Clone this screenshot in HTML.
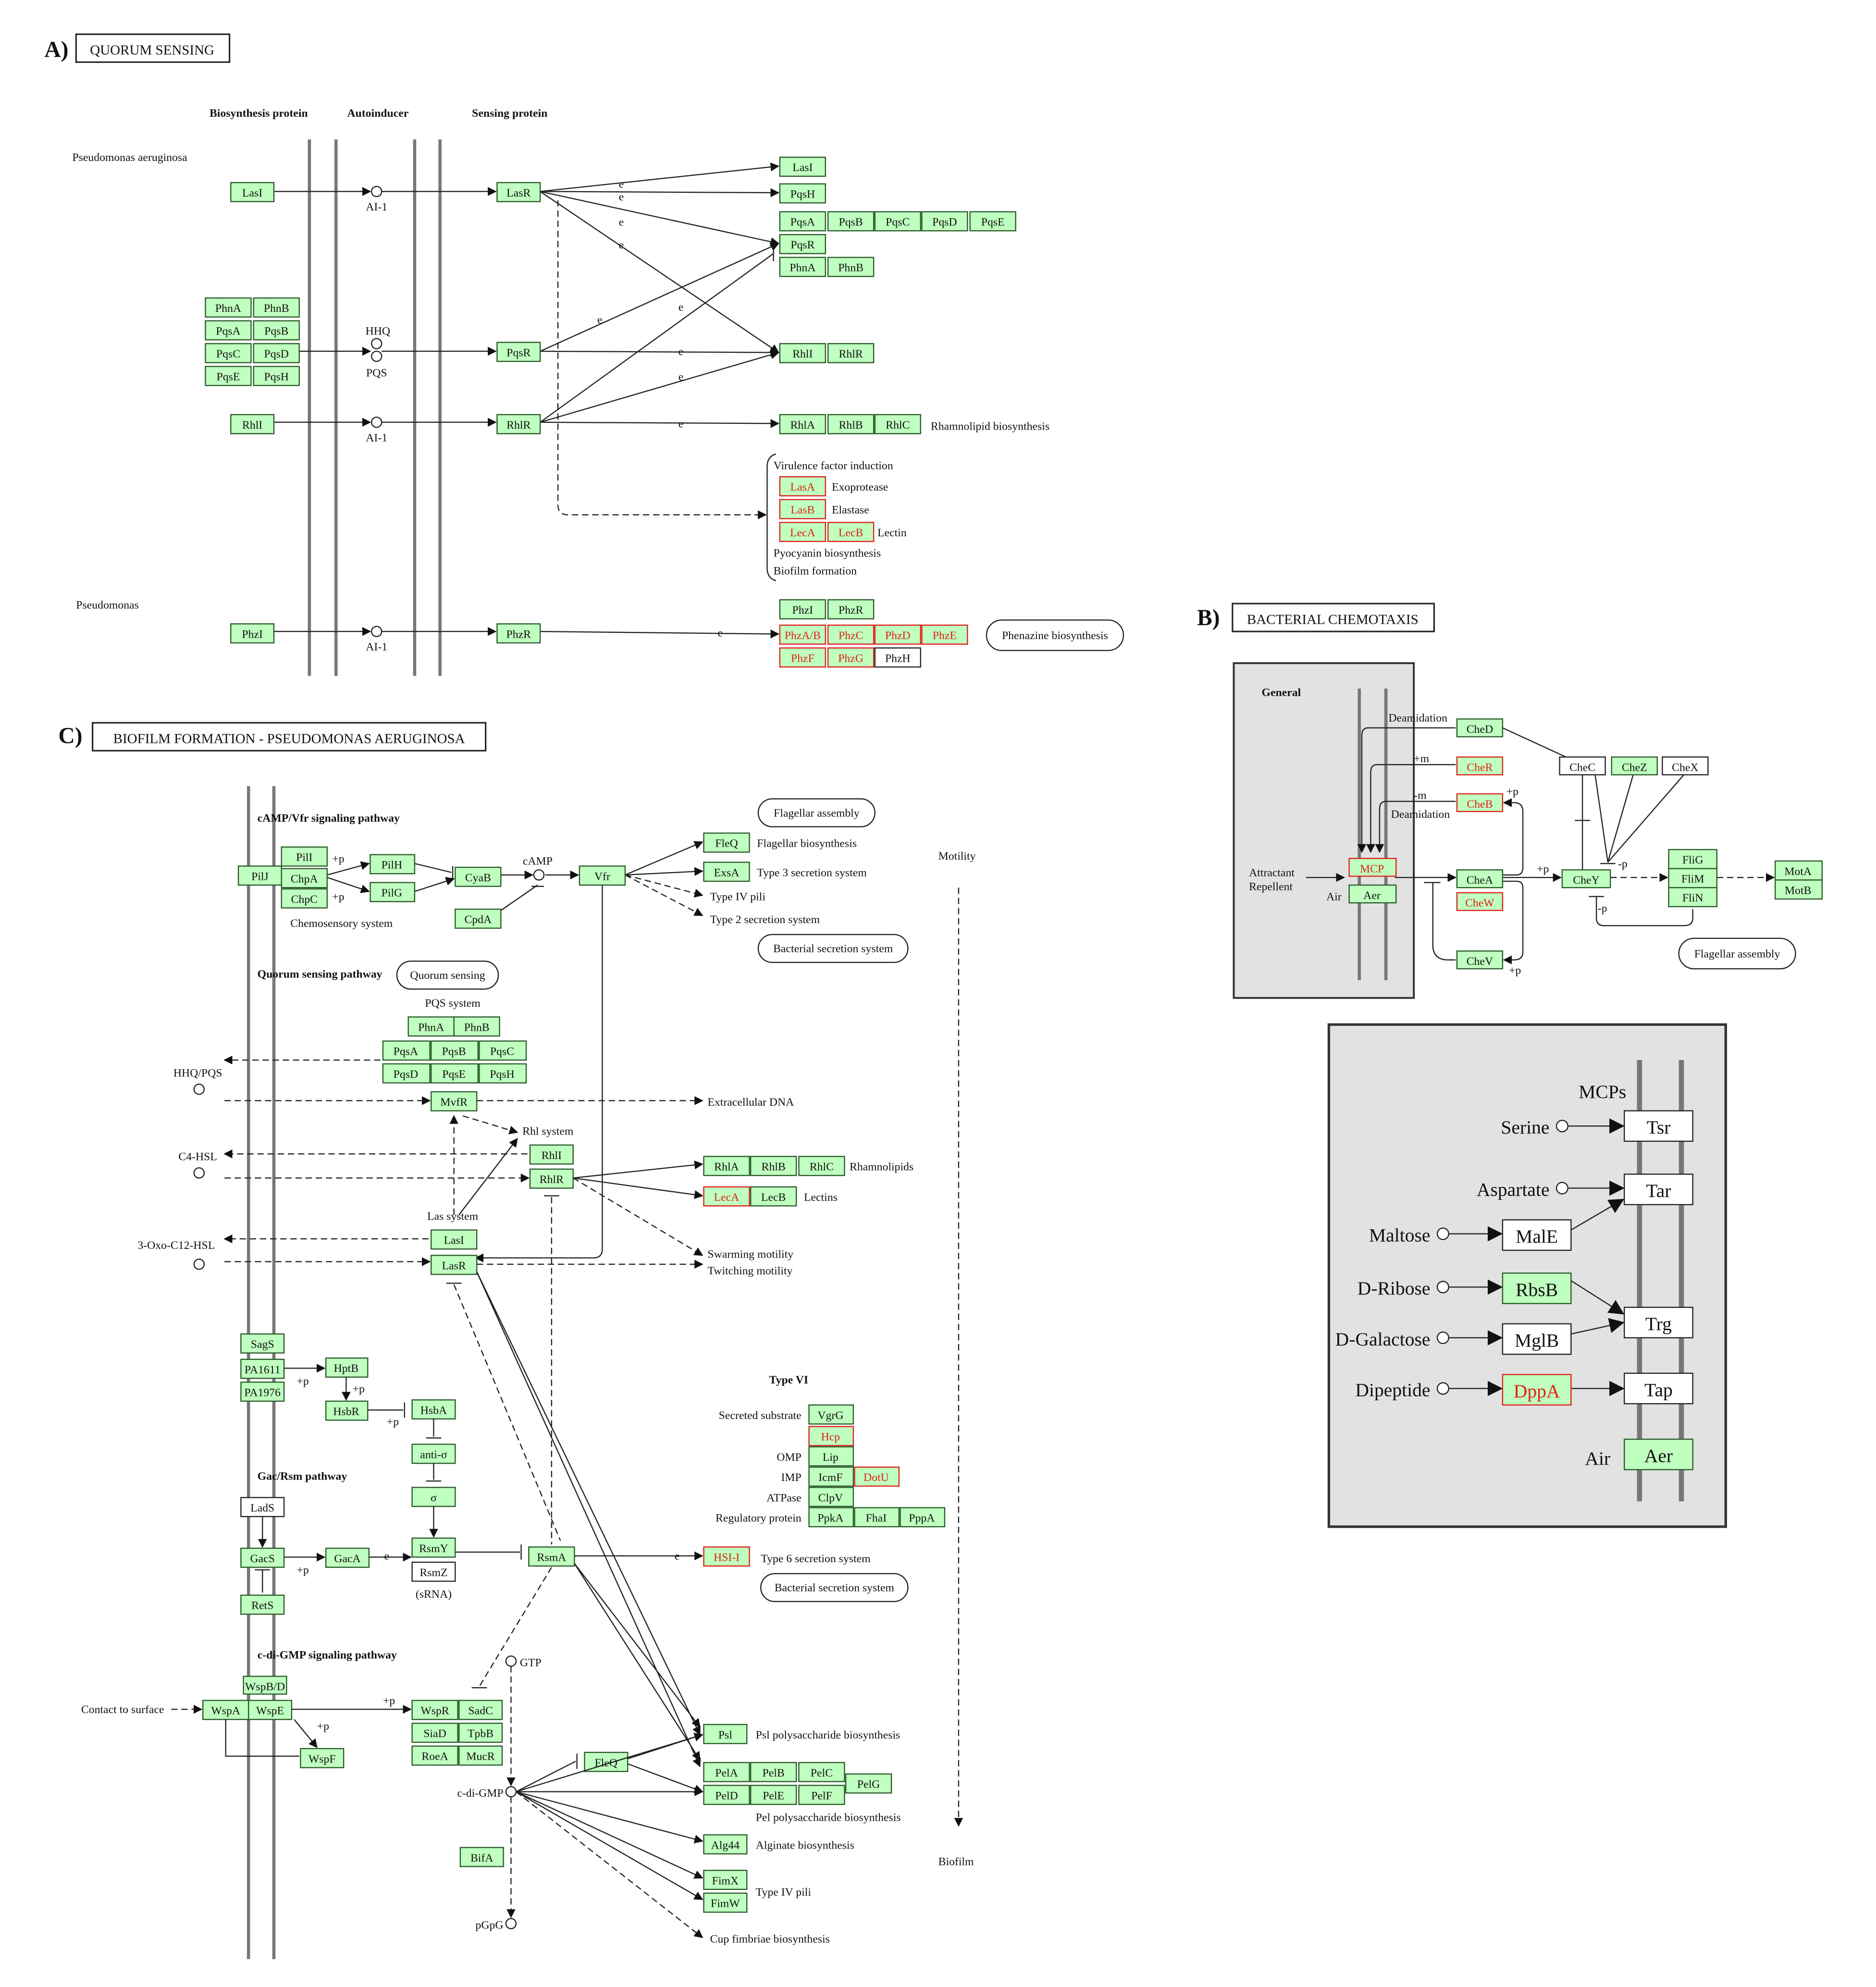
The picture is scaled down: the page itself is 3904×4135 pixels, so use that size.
<!DOCTYPE html>
<html><head><meta charset="utf-8">
<style>
html,body{margin:0;padding:0;background:#fff;}
svg{display:block;}
text{font-family:"Liberation Serif",serif;font-size:9px;fill:#111;}
.m{text-anchor:middle;}
.e{text-anchor:end;}
.b{font-weight:bold;}
.g{fill:#bfffbf;stroke:#2a5a2a;stroke-width:0.9;}
.r{fill:#bfffbf;stroke:#e0201a;stroke-width:0.9;}
.w{fill:#fff;stroke:#222;stroke-width:0.9;}
.rt{fill:#e0201a;}
.v{stroke:#777;stroke-width:2.5;}
.l{stroke:#222;stroke-width:0.9;fill:none;}
.d{stroke:#222;stroke-width:0.9;fill:none;stroke-dasharray:5,3;}
.c{fill:#fff;stroke:#222;stroke-width:0.9;}
.t{fill:#fff;stroke:#222;stroke-width:1.2;}
.big text{font-size:15px;}
</style></head><body>
<svg width="3904" height="4135" viewBox="0 0 1479.5 1567" preserveAspectRatio="none" xmlns="http://www.w3.org/2000/svg">
<defs>
<marker id="a" viewBox="0 0 10 10" refX="9" refY="5" markerWidth="7" markerHeight="7" orient="auto" markerUnits="userSpaceOnUse"><path d="M0,0L10,5L0,10z" fill="#111"/></marker>
<marker id="A" viewBox="0 0 10 10" refX="9" refY="5" markerWidth="12" markerHeight="12" orient="auto" markerUnits="userSpaceOnUse"><path d="M0,0L10,5L0,10z" fill="#111"/></marker>
</defs>
<rect width="1480" height="1567" fill="#fff"/>

<!-- ============ PANEL A ============ -->
<text x="35" y="45" style="font-size:18px" class="b">A)</text>
<rect x="60" y="27" width="121" height="22" class="t"/>
<text x="120" y="43" class="m" style="font-size:11px">QUORUM SENSING</text>
<text x="204" y="92" class="m b">Biosynthesis protein</text>
<text x="298" y="92" class="m b">Autoinducer</text>
<text x="402" y="92" class="m b">Sensing protein</text>
<line x1="244" y1="110" x2="244" y2="533" class="v"/>
<line x1="265" y1="110" x2="265" y2="533" class="v"/>
<line x1="327" y1="110" x2="327" y2="533" class="v"/>
<line x1="347" y1="110" x2="347" y2="533" class="v"/>
<text x="57" y="127">Pseudomonas aeruginosa</text>
<text x="60" y="480">Pseudomonas</text>

<line x1="215" y1="151" x2="292" y2="151" class="l" marker-end="url(#a)"/>
<line x1="301" y1="151" x2="391" y2="151" class="l" marker-end="url(#a)"/>
<line x1="236" y1="277" x2="292" y2="277" class="l" marker-end="url(#a)"/>
<line x1="301" y1="277" x2="391" y2="277" class="l" marker-end="url(#a)"/>
<line x1="215" y1="333" x2="292" y2="333" class="l" marker-end="url(#a)"/>
<line x1="301" y1="333" x2="391" y2="333" class="l" marker-end="url(#a)"/>
<line x1="215" y1="498" x2="292" y2="498" class="l" marker-end="url(#a)"/>
<line x1="301" y1="498" x2="391" y2="498" class="l" marker-end="url(#a)"/>
<circle cx="297" cy="151" r="4" class="c"/><text x="297" y="166" class="m">AI-1</text>
<text x="298" y="264" class="m">HHQ</text>
<circle cx="297" cy="271" r="4" class="c"/><circle cx="297" cy="281" r="4" class="c"/>
<text x="297" y="297" class="m">PQS</text>
<circle cx="297" cy="333" r="4" class="c"/><text x="297" y="348" class="m">AI-1</text>
<circle cx="297" cy="498" r="4" class="c"/><text x="297" y="513" class="m">AI-1</text>

<line x1="426" y1="151" x2="614" y2="131" class="l" marker-end="url(#a)"/>
<line x1="426" y1="151" x2="614" y2="152" class="l" marker-end="url(#a)"/>
<line x1="426" y1="151" x2="614" y2="192" class="l" marker-end="url(#a)"/>
<line x1="426" y1="151" x2="614" y2="278" class="l" marker-end="url(#a)"/>
<line x1="426" y1="277" x2="614" y2="192" class="l" marker-end="url(#a)"/>
<line x1="426" y1="277" x2="614" y2="278" class="l" marker-end="url(#a)"/>
<line x1="426" y1="333" x2="610" y2="200" class="l"/>
<line x1="610" y1="196" x2="610" y2="206" class="l"/>
<line x1="426" y1="333" x2="614" y2="278" class="l" marker-end="url(#a)"/>
<line x1="426" y1="333" x2="614" y2="334" class="l" marker-end="url(#a)"/>
<line x1="426" y1="498" x2="614" y2="500" class="l" marker-end="url(#a)"/>
<path d="M440,158 V398 Q440,406 448,406 H604" class="d" marker-end="url(#a)"/>
<text x="488" y="148">e</text><text x="488" y="158">e</text><text x="488" y="178">e</text><text x="488" y="196">e</text>
<text x="471" y="255">e</text><text x="535" y="245">e</text><text x="535" y="280">e</text><text x="535" y="300">e</text><text x="535" y="337">e</text><text x="566" y="502">e</text>

<rect x="182" y="144" width="34" height="15" class="g"/><text x="199" y="155" class="m">LasI</text>
<rect x="162" y="235" width="36" height="15" class="g"/><text x="180" y="246" class="m">PhnA</text>
<rect x="200" y="235" width="36" height="15" class="g"/><text x="218" y="246" class="m">PhnB</text>
<rect x="162" y="253" width="36" height="15" class="g"/><text x="180" y="264" class="m">PqsA</text>
<rect x="200" y="253" width="36" height="15" class="g"/><text x="218" y="264" class="m">PqsB</text>
<rect x="162" y="271" width="36" height="15" class="g"/><text x="180" y="282" class="m">PqsC</text>
<rect x="200" y="271" width="36" height="15" class="g"/><text x="218" y="282" class="m">PqsD</text>
<rect x="162" y="289" width="36" height="15" class="g"/><text x="180" y="300" class="m">PqsE</text>
<rect x="200" y="289" width="36" height="15" class="g"/><text x="218" y="300" class="m">PqsH</text>
<rect x="182" y="327" width="34" height="15" class="g"/><text x="199" y="338" class="m">RhlI</text>
<rect x="182" y="492" width="34" height="15" class="g"/><text x="199" y="503" class="m">PhzI</text>
<rect x="392" y="144" width="34" height="15" class="g"/><text x="409" y="155" class="m">LasR</text>
<rect x="392" y="270" width="34" height="15" class="g"/><text x="409" y="281" class="m">PqsR</text>
<rect x="392" y="327" width="34" height="15" class="g"/><text x="409" y="338" class="m">RhlR</text>
<rect x="392" y="492" width="34" height="15" class="g"/><text x="409" y="503" class="m">PhzR</text>

<rect x="615" y="124" width="36" height="15" class="g"/><text x="633" y="135" class="m">LasI</text>
<rect x="615" y="145" width="36" height="15" class="g"/><text x="633" y="156" class="m">PqsH</text>
<rect x="615" y="167" width="36" height="15" class="g"/><text x="633" y="178" class="m">PqsA</text>
<rect x="653" y="167" width="36" height="15" class="g"/><text x="671" y="178" class="m">PqsB</text>
<rect x="690" y="167" width="36" height="15" class="g"/><text x="708" y="178" class="m">PqsC</text>
<rect x="727" y="167" width="36" height="15" class="g"/><text x="745" y="178" class="m">PqsD</text>
<rect x="765" y="167" width="36" height="15" class="g"/><text x="783" y="178" class="m">PqsE</text>
<rect x="615" y="185" width="36" height="15" class="g"/><text x="633" y="196" class="m">PqsR</text>
<rect x="615" y="203" width="36" height="15" class="g"/><text x="633" y="214" class="m">PhnA</text>
<rect x="653" y="203" width="36" height="15" class="g"/><text x="671" y="214" class="m">PhnB</text>
<rect x="615" y="271" width="36" height="15" class="g"/><text x="633" y="282" class="m">RhlI</text>
<rect x="653" y="271" width="36" height="15" class="g"/><text x="671" y="282" class="m">RhlR</text>
<rect x="615" y="327" width="36" height="15" class="g"/><text x="633" y="338" class="m">RhlA</text>
<rect x="653" y="327" width="36" height="15" class="g"/><text x="671" y="338" class="m">RhlB</text>
<rect x="690" y="327" width="36" height="15" class="g"/><text x="708" y="338" class="m">RhlC</text>
<text x="734" y="339">Rhamnolipid biosynthesis</text>
<path d="M612,358 Q605,360 605,368 V448 Q605,456 612,458" class="l"/>
<text x="610" y="370">Virulence factor induction</text>
<rect x="615" y="376" width="36" height="15" class="r"/><text x="633" y="387" class="m rt">LasA</text><text x="656" y="387">Exoprotease</text>
<rect x="615" y="394" width="36" height="15" class="r"/><text x="633" y="405" class="m rt">LasB</text><text x="656" y="405">Elastase</text>
<rect x="615" y="412" width="36" height="15" class="r"/><text x="633" y="423" class="m rt">LecA</text>
<rect x="653" y="412" width="36" height="15" class="r"/><text x="671" y="423" class="m rt">LecB</text><text x="692" y="423">Lectin</text>
<text x="610" y="439">Pyocyanin biosynthesis</text>
<text x="610" y="453">Biofilm formation</text>
<rect x="615" y="473" width="36" height="15" class="g"/><text x="633" y="484" class="m">PhzI</text>
<rect x="653" y="473" width="36" height="15" class="g"/><text x="671" y="484" class="m">PhzR</text>
<rect x="615" y="493" width="36" height="15" class="r"/><text x="633" y="504" class="m rt">PhzA/B</text>
<rect x="653" y="493" width="36" height="15" class="r"/><text x="671" y="504" class="m rt">PhzC</text>
<rect x="690" y="493" width="36" height="15" class="r"/><text x="708" y="504" class="m rt">PhzD</text>
<rect x="727" y="493" width="36" height="15" class="r"/><text x="745" y="504" class="m rt">PhzE</text>
<rect x="615" y="511" width="36" height="15" class="r"/><text x="633" y="522" class="m rt">PhzF</text>
<rect x="653" y="511" width="36" height="15" class="r"/><text x="671" y="522" class="m rt">PhzG</text>
<rect x="690" y="511" width="36" height="15" class="w"/><text x="708" y="522" class="m">PhzH</text>
<rect x="778" y="489" width="108" height="24" rx="12" class="w"/><text x="832" y="504" class="m">Phenazine biosynthesis</text>

<!-- ============ PANEL B ============ -->
<text x="944" y="493" style="font-size:18px" class="b">B)</text>
<rect x="972" y="476" width="159" height="22" class="t"/>
<text x="1051" y="492" class="m" style="font-size:11px">BACTERIAL CHEMOTAXIS</text>
<rect x="973" y="523" width="142" height="264" fill="#e2e2e2" stroke="#333" stroke-width="1.5"/>
<text x="995" y="549" class="b">General</text>
<line x1="1072" y1="543" x2="1072" y2="773" class="v"/>
<line x1="1093" y1="543" x2="1093" y2="773" class="v"/>
<path d="M1148,574 H1079 Q1074,574 1074,580 V672" class="l" marker-end="url(#a)"/>
<path d="M1148,603 H1086 Q1081,603 1081,609 V672" class="l" marker-end="url(#a)"/>
<path d="M1148,632 H1093 Q1088,632 1088,638 V672" class="l" marker-end="url(#a)"/>
<text x="1095" y="569">Deamidation</text><text x="1115" y="601">+m</text><text x="1115" y="630">-m</text><text x="1097" y="645">Deamidation</text>
<text x="985" y="691">Attractant</text><text x="985" y="702">Repellent</text>
<line x1="1030" y1="692" x2="1060" y2="692" class="l" marker-end="url(#a)"/>
<text x="1046" y="710">Air</text>
<line x1="1100" y1="692" x2="1148" y2="692" class="l" marker-end="url(#a)"/>
<line x1="1123" y1="696" x2="1136" y2="696" class="l"/>
<path d="M1130,696 V745 Q1130,757 1142,757 H1148" class="l"/>
<path d="M1185,690 H1196 Q1201,690 1201,684 V640 Q1201,633 1194,633 H1186" class="l" marker-end="url(#a)"/>
<path d="M1185,695 H1196 Q1201,695 1201,700 V751 Q1201,757 1194,757 H1186" class="l" marker-end="url(#a)"/>
<text x="1188" y="627">+p</text><text x="1190" y="768">+p</text>
<line x1="1185" y1="692" x2="1231" y2="692" class="l" marker-end="url(#a)"/>
<text x="1212" y="688">+p</text>
<line x1="1270" y1="692" x2="1315" y2="692" class="d" marker-end="url(#a)"/>
<line x1="1354" y1="692" x2="1399" y2="692" class="d" marker-end="url(#a)"/>
<line x1="1185" y1="574" x2="1248" y2="603" class="l"/>
<line x1="1248" y1="611" x2="1248" y2="686" class="l"/>
<line x1="1242" y1="647" x2="1254" y2="647" class="l"/>
<line x1="1258" y1="611" x2="1268" y2="680" class="l"/>
<line x1="1288" y1="611" x2="1268" y2="680" class="l"/>
<line x1="1328" y1="611" x2="1268" y2="680" class="l"/>
<line x1="1262" y1="681" x2="1274" y2="681" class="l"/>
<text x="1276" y="684">-p</text>
<path d="M1335,717 V724 Q1335,730 1328,730 H1265 Q1259,730 1259,724 V707" class="l"/>
<line x1="1253" y1="707" x2="1265" y2="707" class="l"/>
<text x="1260" y="719">-p</text>
<rect x="1149" y="567" width="36" height="14" class="g"/><text x="1167" y="578" class="m">CheD</text>
<rect x="1149" y="597" width="36" height="14" class="r"/><text x="1167" y="608" class="m rt">CheR</text>
<rect x="1149" y="626" width="36" height="14" class="r"/><text x="1167" y="637" class="m rt">CheB</text>
<rect x="1064" y="677" width="37" height="14" class="r"/><text x="1082" y="688" class="m rt">MCP</text>
<rect x="1064" y="698" width="37" height="14" class="g"/><text x="1082" y="709" class="m">Aer</text>
<rect x="1149" y="686" width="36" height="14" class="g"/><text x="1167" y="697" class="m">CheA</text>
<rect x="1149" y="704" width="36" height="14" class="r"/><text x="1167" y="715" class="m rt">CheW</text>
<rect x="1149" y="750" width="36" height="14" class="g"/><text x="1167" y="761" class="m">CheV</text>
<rect x="1230" y="597" width="36" height="14" class="w"/><text x="1248" y="608" class="m">CheC</text>
<rect x="1271" y="597" width="36" height="14" class="g"/><text x="1289" y="608" class="m">CheZ</text>
<rect x="1311" y="597" width="36" height="14" class="w"/><text x="1329" y="608" class="m">CheX</text>
<rect x="1232" y="686" width="38" height="14" class="g"/><text x="1251" y="697" class="m">CheY</text>
<rect x="1316" y="670" width="38" height="15" class="g"/><text x="1335" y="681" class="m">FliG</text>
<rect x="1316" y="685" width="38" height="15" class="g"/><text x="1335" y="696" class="m">FliM</text>
<rect x="1316" y="700" width="38" height="15" class="g"/><text x="1335" y="711" class="m">FliN</text>
<rect x="1400" y="679" width="37" height="15" class="g"/><text x="1418" y="690" class="m">MotA</text>
<rect x="1400" y="694" width="37" height="15" class="g"/><text x="1418" y="705" class="m">MotB</text>
<rect x="1324" y="740" width="92" height="24" rx="12" class="w"/><text x="1370" y="755" class="m">Flagellar assembly</text>

<rect x="1048" y="808" width="313" height="396" fill="#e2e2e2" stroke="#333" stroke-width="2"/>
<line x1="1293" y1="836" x2="1293" y2="1184" class="v" style="stroke-width:4"/>
<line x1="1326" y1="836" x2="1326" y2="1184" class="v" style="stroke-width:4"/>
<g class="big">
<text x="1245" y="866">MCPs</text>
<text x="1222" y="894" class="e">Serine</text><circle cx="1232" cy="888" r="4.5" class="c"/>
<line x1="1237" y1="888" x2="1280" y2="888" class="l" marker-end="url(#A)"/>
<text x="1222" y="943" class="e">Aspartate</text><circle cx="1232" cy="937" r="4.5" class="c"/>
<line x1="1237" y1="937" x2="1280" y2="937" class="l" marker-end="url(#A)"/>
<text x="1128" y="979" class="e">Maltose</text><circle cx="1138" cy="973" r="4.5" class="c"/>
<line x1="1143" y1="973" x2="1184" y2="973" class="l" marker-end="url(#A)"/>
<text x="1128" y="1021" class="e">D-Ribose</text><circle cx="1138" cy="1015" r="4.5" class="c"/>
<line x1="1143" y1="1015" x2="1184" y2="1015" class="l" marker-end="url(#A)"/>
<text x="1128" y="1061" class="e">D-Galactose</text><circle cx="1138" cy="1055" r="4.5" class="c"/>
<line x1="1143" y1="1055" x2="1184" y2="1055" class="l" marker-end="url(#A)"/>
<text x="1128" y="1101" class="e">Dipeptide</text><circle cx="1138" cy="1095" r="4.5" class="c"/>
<line x1="1143" y1="1095" x2="1184" y2="1095" class="l" marker-end="url(#A)"/>
<line x1="1239" y1="970" x2="1280" y2="946" class="l" marker-end="url(#A)"/>
<line x1="1239" y1="1010" x2="1280" y2="1036" class="l" marker-end="url(#A)"/>
<line x1="1239" y1="1052" x2="1280" y2="1043" class="l" marker-end="url(#A)"/>
<line x1="1239" y1="1095" x2="1280" y2="1095" class="l" marker-end="url(#A)"/>
<rect x="1281" y="876" width="54" height="24" class="w"/><text x="1308" y="894" class="m">Tsr</text>
<rect x="1281" y="926" width="54" height="24" class="w"/><text x="1308" y="944" class="m">Tar</text>
<rect x="1281" y="1031" width="54" height="24" class="w"/><text x="1308" y="1049" class="m">Trg</text>
<rect x="1281" y="1083" width="54" height="24" class="w"/><text x="1308" y="1101" class="m">Tap</text>
<rect x="1281" y="1135" width="54" height="24" class="g"/><text x="1308" y="1153" class="m">Aer</text>
<text x="1250" y="1155">Air</text>
<rect x="1185" y="962" width="54" height="24" class="w"/><text x="1212" y="980" class="m">MalE</text>
<rect x="1185" y="1004" width="54" height="24" class="g"/><text x="1212" y="1022" class="m">RbsB</text>
<rect x="1185" y="1044" width="54" height="24" class="w"/><text x="1212" y="1062" class="m">MglB</text>
<rect x="1185" y="1084" width="54" height="24" class="r"/><text x="1212" y="1102" class="m rt">DppA</text>
</g>

<!-- ============ PANEL C ============ -->
<text x="46" y="586" style="font-size:18px" class="b">C)</text>
<rect x="73" y="570" width="310" height="22" class="t"/>
<text x="228" y="586" class="m" style="font-size:11px">BIOFILM FORMATION - PSEUDOMONAS AERUGINOSA</text>
<line x1="196" y1="620" x2="196" y2="1545" class="v"/>
<line x1="216" y1="620" x2="216" y2="1545" class="v"/>
<text x="203" y="648" class="b">cAMP/Vfr signaling pathway</text>
<text x="203" y="771" class="b">Quorum sensing pathway</text>
<text x="203" y="1167" class="b">Gac/Rsm pathway</text>
<text x="203" y="1308" class="b">c-di-GMP signaling pathway</text>
<text x="622" y="1091" class="m b">Type VI</text>
<text x="740" y="678">Motility</text>
<line x1="756" y1="700" x2="756" y2="1440" class="d" marker-end="url(#a)"/>
<text x="740" y="1471">Biofilm</text>

<line x1="258" y1="690" x2="291" y2="681" class="l" marker-end="url(#a)"/>
<line x1="258" y1="692" x2="291" y2="703" class="l" marker-end="url(#a)"/>
<text x="262" y="680">+p</text><text x="262" y="710">+p</text>
<line x1="327" y1="681" x2="356" y2="688" class="l"/><line x1="357" y1="683" x2="357" y2="693" class="l"/>
<line x1="327" y1="703" x2="358" y2="693" class="l" marker-end="url(#a)"/>
<line x1="395" y1="690" x2="420" y2="690" class="l" marker-end="url(#a)"/>
<circle cx="425" cy="690" r="4" class="c"/><text x="424" y="682" class="m">cAMP</text>
<line x1="430" y1="690" x2="456" y2="690" class="l" marker-end="url(#a)"/>
<line x1="395" y1="718" x2="424" y2="698" class="l"/><line x1="419" y1="699" x2="429" y2="699" class="l"/>
<line x1="493" y1="690" x2="554" y2="664" class="l" marker-end="url(#a)"/>
<line x1="493" y1="690" x2="554" y2="687" class="l" marker-end="url(#a)"/>
<line x1="493" y1="690" x2="554" y2="706" class="d" marker-end="url(#a)"/>
<line x1="493" y1="690" x2="554" y2="722" class="d" marker-end="url(#a)"/>
<path d="M475,698 V985 Q475,992 468,992 H375" class="l" marker-end="url(#a)"/>

<rect x="188" y="683" width="34" height="15" class="g"/><text x="205" y="694" class="m">PilJ</text>
<rect x="222" y="668" width="36" height="15" class="g"/><text x="240" y="679" class="m">PilI</text>
<rect x="222" y="685" width="36" height="15" class="g"/><text x="240" y="696" class="m">ChpA</text>
<rect x="222" y="701" width="36" height="15" class="g"/><text x="240" y="712" class="m">ChpC</text>
<text x="229" y="731">Chemosensory system</text>
<rect x="292" y="674" width="35" height="15" class="g"/><text x="309" y="685" class="m">PilH</text>
<rect x="292" y="696" width="35" height="15" class="g"/><text x="309" y="707" class="m">PilG</text>
<rect x="359" y="684" width="36" height="15" class="g"/><text x="377" y="695" class="m">CyaB</text>
<rect x="359" y="717" width="36" height="15" class="g"/><text x="377" y="728" class="m">CpdA</text>
<rect x="457" y="683" width="36" height="15" class="g"/><text x="475" y="694" class="m">Vfr</text>
<rect x="598" y="630" width="92" height="22" rx="11" class="w"/><text x="644" y="644" class="m">Flagellar assembly</text>
<rect x="555" y="657" width="36" height="15" class="g"/><text x="573" y="668" class="m">FleQ</text><text x="597" y="668">Flagellar biosynthesis</text>
<rect x="555" y="680" width="36" height="15" class="g"/><text x="573" y="691" class="m">ExsA</text><text x="597" y="691">Type 3 secretion system</text>
<text x="560" y="710">Type IV pili</text><text x="560" y="728">Type 2 secretion system</text>
<rect x="598" y="737" width="118" height="22" rx="11" class="w"/><text x="657" y="751" class="m">Bacterial secretion system</text>

<rect x="313" y="758" width="80" height="22" rx="11" class="w"/><text x="353" y="772" class="m">Quorum sensing</text>
<text x="357" y="794" class="m">PQS system</text>
<rect x="322" y="802" width="36" height="15" class="g"/><text x="340" y="813" class="m">PhnA</text>
<rect x="358" y="802" width="36" height="15" class="g"/><text x="376" y="813" class="m">PhnB</text>
<rect x="302" y="821" width="37" height="15" class="g"/><text x="320" y="832" class="m">PqsA</text>
<rect x="340" y="821" width="37" height="15" class="g"/><text x="358" y="832" class="m">PqsB</text>
<rect x="378" y="821" width="37" height="15" class="g"/><text x="396" y="832" class="m">PqsC</text>
<rect x="302" y="839" width="37" height="15" class="g"/><text x="320" y="850" class="m">PqsD</text>
<rect x="340" y="839" width="37" height="15" class="g"/><text x="358" y="850" class="m">PqsE</text>
<rect x="378" y="839" width="37" height="15" class="g"/><text x="396" y="850" class="m">PqsH</text>
<line x1="300" y1="836" x2="177" y2="836" class="d" marker-end="url(#a)"/>
<text x="156" y="849" class="m">HHQ/PQS</text><circle cx="157" cy="859" r="4" class="c"/>
<line x1="177" y1="868" x2="339" y2="868" class="d" marker-end="url(#a)"/>
<rect x="340" y="861" width="36" height="15" class="g"/><text x="358" y="872" class="m">MvfR</text>
<line x1="376" y1="868" x2="554" y2="868" class="d" marker-end="url(#a)"/><text x="558" y="872">Extracellular DNA</text>
<line x1="365" y1="880" x2="408" y2="893" class="d" marker-end="url(#a)"/>
<text x="412" y="895">Rhl system</text>
<line x1="358" y1="958" x2="358" y2="880" class="d" marker-end="url(#a)"/>
<line x1="362" y1="958" x2="408" y2="898" class="l" marker-end="url(#a)"/>
<rect x="418" y="903" width="34" height="15" class="g"/><text x="435" y="914" class="m">RhlI</text>
<rect x="418" y="922" width="34" height="15" class="g"/><text x="435" y="933" class="m">RhlR</text>
<line x1="416" y1="910" x2="177" y2="910" class="d" marker-end="url(#a)"/>
<text x="156" y="915" class="m">C4-HSL</text><circle cx="157" cy="925" r="4" class="c"/>
<line x1="177" y1="929" x2="417" y2="929" class="d" marker-end="url(#a)"/>
<line x1="452" y1="929" x2="554" y2="918" class="l" marker-end="url(#a)"/>
<line x1="452" y1="929" x2="554" y2="943" class="l" marker-end="url(#a)"/>
<line x1="452" y1="929" x2="554" y2="990" class="d" marker-end="url(#a)"/>
<line x1="435" y1="944" x2="435" y2="1218" class="d"/><line x1="429" y1="943" x2="441" y2="943" class="l"/>
<rect x="555" y="912" width="36" height="15" class="g"/><text x="573" y="923" class="m">RhlA</text>
<rect x="592" y="912" width="36" height="15" class="g"/><text x="610" y="923" class="m">RhlB</text>
<rect x="630" y="912" width="36" height="15" class="g"/><text x="648" y="923" class="m">RhlC</text>
<text x="670" y="923">Rhamnolipids</text>
<rect x="555" y="936" width="36" height="15" class="r"/><text x="573" y="947" class="m rt">LecA</text>
<rect x="592" y="936" width="36" height="15" class="g"/><text x="610" y="947" class="m">LecB</text>
<text x="634" y="947">Lectins</text>
<text x="357" y="962" class="m">Las system</text>
<rect x="340" y="970" width="36" height="15" class="g"/><text x="358" y="981" class="m">LasI</text>
<rect x="340" y="990" width="36" height="15" class="g"/><text x="358" y="1001" class="m">LasR</text>
<line x1="338" y1="977" x2="177" y2="977" class="d" marker-end="url(#a)"/>
<text x="139" y="985" class="m">3-Oxo-C12-HSL</text><circle cx="157" cy="997" r="4" class="c"/>
<line x1="177" y1="995" x2="339" y2="995" class="d" marker-end="url(#a)"/>
<line x1="376" y1="997" x2="554" y2="997" class="d" marker-end="url(#a)"/>
<text x="558" y="992">Swarming motility</text><text x="558" y="1005">Twitching motility</text>
<line x1="352" y1="1012" x2="364" y2="1012" class="l"/>
<line x1="358" y1="1013" x2="442" y2="1215" class="d"/>
<line x1="376" y1="1003" x2="552" y2="1368" class="l" marker-end="url(#a)"/>
<line x1="376" y1="1003" x2="552" y2="1393" class="l" marker-end="url(#a)"/>

<rect x="190" y="1052" width="34" height="15" class="g"/><text x="207" y="1063" class="m">SagS</text>
<rect x="190" y="1072" width="34" height="15" class="g"/><text x="207" y="1083" class="m">PA1611</text>
<rect x="190" y="1090" width="34" height="15" class="g"/><text x="207" y="1101" class="m">PA1976</text>
<line x1="224" y1="1079" x2="256" y2="1079" class="l" marker-end="url(#a)"/><text x="234" y="1092">+p</text>
<rect x="257" y="1071" width="33" height="15" class="g"/><text x="273" y="1082" class="m">HptB</text>
<line x1="273" y1="1086" x2="273" y2="1104" class="l" marker-end="url(#a)"/><text x="278" y="1098">+p</text>
<rect x="257" y="1105" width="33" height="15" class="g"/><text x="273" y="1116" class="m">HsbR</text>
<line x1="290" y1="1112" x2="318" y2="1112" class="l"/><line x1="319" y1="1106" x2="319" y2="1118" class="l"/><text x="305" y="1124">+p</text>
<rect x="325" y="1104" width="34" height="15" class="g"/><text x="342" y="1115" class="m">HsbA</text>
<line x1="342" y1="1119" x2="342" y2="1133" class="l"/><line x1="336" y1="1134" x2="348" y2="1134" class="l"/>
<rect x="325" y="1139" width="34" height="15" class="g"/><text x="342" y="1150" class="m">anti-σ</text>
<line x1="342" y1="1154" x2="342" y2="1167" class="l"/><line x1="336" y1="1168" x2="348" y2="1168" class="l"/>
<rect x="325" y="1173" width="34" height="15" class="g"/><text x="342" y="1184" class="m">σ</text>
<line x1="342" y1="1188" x2="342" y2="1212" class="l" marker-end="url(#a)"/>
<rect x="325" y="1213" width="34" height="15" class="g"/><text x="342" y="1224" class="m">RsmY</text>
<rect x="325" y="1232" width="34" height="15" class="w"/><text x="342" y="1243" class="m">RsmZ</text>
<text x="342" y="1260" class="m">(sRNA)</text>
<rect x="190" y="1181" width="34" height="15" class="w"/><text x="207" y="1192" class="m">LadS</text>
<line x1="207" y1="1196" x2="207" y2="1220" class="l" marker-end="url(#a)"/>
<rect x="190" y="1221" width="34" height="15" class="g"/><text x="207" y="1232" class="m">GacS</text>
<line x1="207" y1="1256" x2="207" y2="1238" class="l"/><line x1="201" y1="1238" x2="213" y2="1238" class="l"/>
<rect x="190" y="1258" width="34" height="15" class="g"/><text x="207" y="1269" class="m">RetS</text>
<line x1="224" y1="1228" x2="256" y2="1228" class="l" marker-end="url(#a)"/><text x="234" y="1241">+p</text>
<rect x="257" y="1221" width="34" height="15" class="g"/><text x="274" y="1232" class="m">GacA</text>
<line x1="291" y1="1228" x2="324" y2="1228" class="l" marker-end="url(#a)"/><text x="303" y="1230">e</text>
<line x1="359" y1="1224" x2="410" y2="1224" class="l"/><line x1="411" y1="1218" x2="411" y2="1230" class="l"/>
<rect x="417" y="1220" width="36" height="15" class="g"/><text x="435" y="1231" class="m">RsmA</text>
<line x1="453" y1="1227" x2="554" y2="1227" class="l" marker-end="url(#a)"/><text x="532" y="1230">e</text>
<rect x="555" y="1220" width="36" height="15" class="r"/><text x="573" y="1231" class="m rt">HSI-I</text>
<text x="600" y="1232">Type 6 secretion system</text>
<rect x="600" y="1241" width="116" height="22" rx="11" class="w"/><text x="658" y="1255" class="m">Bacterial secretion system</text>
<line x1="453" y1="1233" x2="552" y2="1362" class="l" marker-end="url(#a)"/>
<line x1="453" y1="1233" x2="552" y2="1388" class="l" marker-end="url(#a)"/>
<line x1="435" y1="1236" x2="378" y2="1330" class="d"/><line x1="372" y1="1331" x2="384" y2="1331" class="l"/>

<rect x="638" y="1108" width="35" height="15" class="g"/><text x="655" y="1119" class="m">VgrG</text><text x="632" y="1119" class="e">Secreted substrate</text>
<rect x="638" y="1125" width="35" height="15" class="r"/><text x="655" y="1136" class="m rt">Hcp</text>
<rect x="638" y="1141" width="35" height="15" class="g"/><text x="655" y="1152" class="m">Lip</text><text x="632" y="1152" class="e">OMP</text>
<rect x="638" y="1157" width="35" height="15" class="g"/><text x="655" y="1168" class="m">IcmF</text><text x="632" y="1168" class="e">IMP</text>
<rect x="674" y="1157" width="35" height="15" class="r"/><text x="691" y="1168" class="m rt">DotU</text>
<rect x="638" y="1173" width="35" height="15" class="g"/><text x="655" y="1184" class="m">ClpV</text><text x="632" y="1184" class="e">ATPase</text>
<rect x="638" y="1189" width="35" height="15" class="g"/><text x="655" y="1200" class="m">PpkA</text><text x="632" y="1200" class="e">Regulatory protein</text>
<rect x="674" y="1189" width="35" height="15" class="g"/><text x="691" y="1200" class="m">FhaI</text>
<rect x="710" y="1189" width="35" height="15" class="g"/><text x="727" y="1200" class="m">PppA</text>

<rect x="192" y="1322" width="34" height="14" class="g"/><text x="209" y="1333" class="m">WspB/D</text>
<text x="64" y="1351">Contact to surface</text>
<line x1="135" y1="1348" x2="159" y2="1348" class="d" marker-end="url(#a)"/>
<rect x="160" y="1341" width="36" height="15" class="g"/><text x="178" y="1352" class="m">WspA</text>
<rect x="196" y="1341" width="34" height="15" class="g"/><text x="213" y="1352" class="m">WspE</text>
<path d="M178,1356 V1385 H236" class="l"/>
<line x1="232" y1="1356" x2="250" y2="1378" class="l" marker-end="url(#a)"/><text x="250" y="1364">+p</text>
<rect x="237" y="1379" width="34" height="15" class="g"/><text x="254" y="1390" class="m">WspF</text>
<line x1="230" y1="1348" x2="324" y2="1348" class="l" marker-end="url(#a)"/><text x="302" y="1344">+p</text>
<rect x="325" y="1341" width="36" height="15" class="g"/><text x="343" y="1352" class="m">WspR</text>
<rect x="362" y="1341" width="34" height="15" class="g"/><text x="379" y="1352" class="m">SadC</text>
<rect x="325" y="1359" width="36" height="15" class="g"/><text x="343" y="1370" class="m">SiaD</text>
<rect x="362" y="1359" width="34" height="15" class="g"/><text x="379" y="1370" class="m">TpbB</text>
<rect x="325" y="1377" width="36" height="15" class="g"/><text x="343" y="1388" class="m">RoeA</text>
<rect x="362" y="1377" width="34" height="15" class="g"/><text x="379" y="1388" class="m">MucR</text>
<circle cx="403" cy="1310" r="4" class="c"/><text x="410" y="1314">GTP</text>
<line x1="403" y1="1314" x2="403" y2="1408" class="d" marker-end="url(#a)"/>
<circle cx="403" cy="1413" r="4" class="c"/><text x="397" y="1417" class="e">c-di-GMP</text>
<line x1="403" y1="1417" x2="403" y2="1512" class="d" marker-end="url(#a)"/>
<circle cx="403" cy="1517" r="4" class="c"/><text x="397" y="1521" class="e">pGpG</text>
<line x1="407" y1="1413" x2="454" y2="1389" class="l"/><line x1="455" y1="1383" x2="455" y2="1395" class="l"/>
<rect x="461" y="1382" width="34" height="15" class="g"/><text x="478" y="1393" class="m">FleQ</text>
<line x1="495" y1="1387" x2="554" y2="1368" class="l" marker-end="url(#a)"/>
<line x1="495" y1="1391" x2="554" y2="1413" class="l" marker-end="url(#a)"/>
<line x1="407" y1="1413" x2="554" y2="1368" class="l" marker-end="url(#a)"/>
<line x1="407" y1="1413" x2="554" y2="1413" class="l" marker-end="url(#a)"/>
<line x1="407" y1="1413" x2="554" y2="1452" class="l" marker-end="url(#a)"/>
<line x1="407" y1="1413" x2="554" y2="1481" class="l" marker-end="url(#a)"/>
<line x1="407" y1="1413" x2="554" y2="1498" class="l" marker-end="url(#a)"/>
<line x1="407" y1="1413" x2="554" y2="1528" class="d" marker-end="url(#a)"/>
<rect x="555" y="1360" width="34" height="15" class="g"/><text x="572" y="1371" class="m">Psl</text><text x="596" y="1371">Psl polysaccharide biosynthesis</text>
<rect x="555" y="1390" width="36" height="15" class="g"/><text x="573" y="1401" class="m">PelA</text>
<rect x="592" y="1390" width="36" height="15" class="g"/><text x="610" y="1401" class="m">PelB</text>
<rect x="630" y="1390" width="36" height="15" class="g"/><text x="648" y="1401" class="m">PelC</text>
<rect x="667" y="1399" width="36" height="15" class="g"/><text x="685" y="1410" class="m">PelG</text>
<rect x="555" y="1408" width="36" height="15" class="g"/><text x="573" y="1419" class="m">PelD</text>
<rect x="592" y="1408" width="36" height="15" class="g"/><text x="610" y="1419" class="m">PelE</text>
<rect x="630" y="1408" width="36" height="15" class="g"/><text x="648" y="1419" class="m">PelF</text>
<text x="596" y="1436">Pel polysaccharide biosynthesis</text>
<rect x="555" y="1447" width="34" height="15" class="g"/><text x="572" y="1458" class="m">Alg44</text><text x="596" y="1458">Alginate biosynthesis</text>
<rect x="363" y="1457" width="34" height="15" class="g"/><text x="380" y="1468" class="m">BifA</text>
<rect x="555" y="1475" width="34" height="15" class="g"/><text x="572" y="1486" class="m">FimX</text>
<rect x="555" y="1493" width="34" height="15" class="g"/><text x="572" y="1504" class="m">FimW</text>
<text x="596" y="1495">Type IV pili</text>
<text x="560" y="1532">Cup fimbriae biosynthesis</text>
</svg>
</body></html>
